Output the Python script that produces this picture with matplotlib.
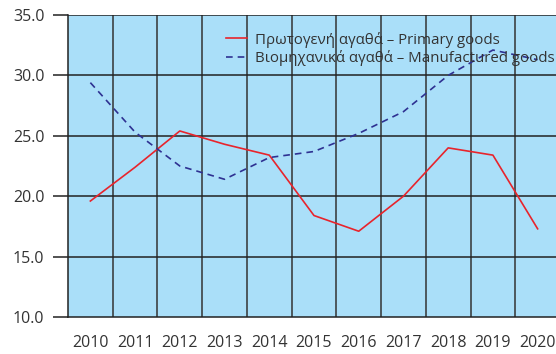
import matplotlib.pyplot as plt

plt.rcParams['font.family'] = ['Open Sans', 'DejaVu Sans']

years = ['2010', '2011', '2012', '2013', '2014', '2015', '2016', '2017', '2018', '2019', '2020']
primary = [19.6, 22.4, 25.4, 24.3, 23.4, 18.4, 17.1, 20.0, 24.0, 23.4, 17.3]
manufactured = [29.4, 25.3, 22.5, 21.4, 23.2, 23.7, 25.2, 27.0, 30.0, 32.1, 31.3]

label_primary = 'Πρωτογενή αγαθά – Primary goods'
label_manuf = 'Βιομηχανικά αγαθά – Manufactured goods'

fig = plt.figure(figsize=(5.56, 3.54), dpi=100)
# plot area runs a little past the right edge of the figure
ax = fig.add_axes([68 / 556, 1 - 317 / 354, 492 / 556, 302 / 354])
ax.set_facecolor('#aadff9')

x = range(len(years))
ax.plot(x, primary, color='#e8242c', lw=1.2, label=label_primary)
ax.plot(x, manufactured, color='#2e3192', lw=1.2, ls=(0, (4, 3)), label=label_manuf)

ax.set_xlim(-0.5, len(years) - 0.5)
ax.set_ylim(10, 35)
ax.set_yticks([10, 15, 20, 25, 30, 35])
ax.set_yticklabels([f'{v:.1f}' for v in [10, 15, 20, 25, 30, 35]])
ax.set_xticks(x)
ax.set_xticklabels(years)

# vertical lines between the year categories
for b in range(1, len(years) + 1):
    ax.axvline(b - 0.5, color='#333333', lw=1.1, zorder=1.5)
for v in [15, 20, 25, 30, 35]:
    ax.axhline(v, color='#222222', lw=1.1, zorder=1.5)

for s in ['top', 'right']:
    ax.spines[s].set_visible(False)
ax.spines['left'].set_color('#222222')
ax.spines['left'].set_linewidth(1.1)
ax.spines['bottom'].set_color('#222222')
ax.spines['bottom'].set_linewidth(1.1)

ax.tick_params(axis='y', length=11, width=1.1, color='#222222', pad=6,
               labelsize=11.5, labelcolor='#333333')
ax.tick_params(axis='x', length=0, pad=13, labelsize=11.5, labelcolor='#333333')

leg = ax.legend(loc='upper left', bbox_to_anchor=(0.309, 0.965), frameon=False,
                fontsize=10.8, handlelength=1.4, handletextpad=0.5,
                labelspacing=0.18, borderaxespad=0)
for t in leg.get_texts():
    t.set_color('#333333')

fig.savefig('out.png', dpi=100)
